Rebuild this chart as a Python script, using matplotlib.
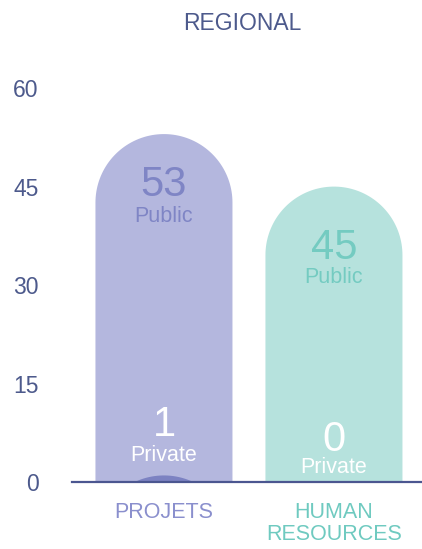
import matplotlib.pyplot as plt
import numpy as np
from matplotlib.path import Path
from matplotlib.patches import PathPatch

# Values per category
categories = ["PROJETS", "HUMAN\nRESOURCES"]
public_values = [53, 45]
private_values = [1, 0]
y_ticks = [0, 15, 30, 45, 60]

bar_colors = ["#b4b7de", "#b6e2dd"]
private_colors = ["#7c82c2", "#6fc9bf"]
text_colors = ["#7f85c5", "#74cbc1"]
label_colors = ["#8a8fcd", "#6fcac0"]
axis_color = "#4b5690"
tick_color = "#4d5a8c"

FONT = ["Liberation Sans", "DejaVu Sans"]
plt.rcParams["font.family"] = FONT


def rounded_bar(ax, x, top, width, color, px_per_x, px_per_y):
    """Bar with a half-ellipse top that looks circular on screen."""
    rx = width / 2
    ry = rx * px_per_x / px_per_y
    shoulder = top - ry
    t = np.linspace(np.pi, 0, 80)
    arc_x = x + rx * np.cos(t)
    arc_y = shoulder + ry * np.sin(t)
    bottom = min(0, shoulder) - 5
    verts = [(x - rx, bottom)] + list(zip(arc_x, arc_y)) + [(x + rx, bottom), (x - rx, bottom)]
    codes = [Path.MOVETO] + [Path.LINETO] * (len(verts) - 2) + [Path.CLOSEPOLY]
    ax.add_patch(PathPatch(Path(verts, codes), facecolor=color, edgecolor="none"))


fig = plt.figure(figsize=(4.22, 5.49), dpi=100)
ax = fig.add_axes([72 / 422, (549 - 482) / 549, 350 / 422, (482 - 75) / 549])

x = np.arange(len(categories))
ax.set_xlim(-0.541, 1.518)
ax.set_ylim(0, 62)
bar_width = 0.806

fig.canvas.draw()
p0 = ax.transData.transform((0, 0))
p1 = ax.transData.transform((1, 1))
px_per_x = p1[0] - p0[0]
px_per_y = p1[1] - p0[1]

for i in range(len(categories)):
    rounded_bar(ax, x[i], public_values[i], bar_width, bar_colors[i], px_per_x, px_per_y)
    if private_values[i] > 0:
        rounded_bar(ax, x[i], private_values[i], bar_width, private_colors[i], px_per_x, px_per_y)

# Labels inside the bars
public_offsets = [-7.0, -8.6]
public_gaps = [5.2, 4.8]
private_num_y = [9.4, 7.1]
private_gaps = [5.0, 4.5]
for i in range(len(categories)):
    top = public_values[i]
    ax.text(x[i], top + public_offsets[i], str(public_values[i]), ha="center",
            va="center_baseline", fontsize=30, color=text_colors[i])
    ax.text(x[i], top + public_offsets[i] - public_gaps[i], "Public", ha="center",
            va="center_baseline", fontsize=15.5, color=text_colors[i])
    ax.text(x[i], private_num_y[i], str(private_values[i]), ha="center",
            va="center_baseline", fontsize=30, color="white")
    ax.text(x[i], private_num_y[i] - private_gaps[i], "Private", ha="center",
            va="center_baseline", fontsize=15.5, color="white")

# Category labels under the baseline
for i, cat in enumerate(categories):
    ax.text(x[i], -3.0, cat, ha="center", va="top", fontsize=15.5, color=label_colors[i],
            linespacing=1.1)

ax.set_yticks(y_ticks)
ax.set_yticklabels([str(v) for v in y_ticks])
ax.tick_params(axis="y", length=0, pad=24, labelsize=16.5, labelcolor=tick_color)
ax.set_xticks([])
for side in ["top", "right", "left"]:
    ax.spines[side].set_visible(False)
ax.spines["bottom"].set_color(axis_color)
ax.spines["bottom"].set_linewidth(1.6)

fig.text(242 / 422, 1 - 24 / 549, "REGIONAL", ha="center", va="center",
         fontsize=16.5, color=tick_color)

fig.savefig("out.png", dpi=100)
